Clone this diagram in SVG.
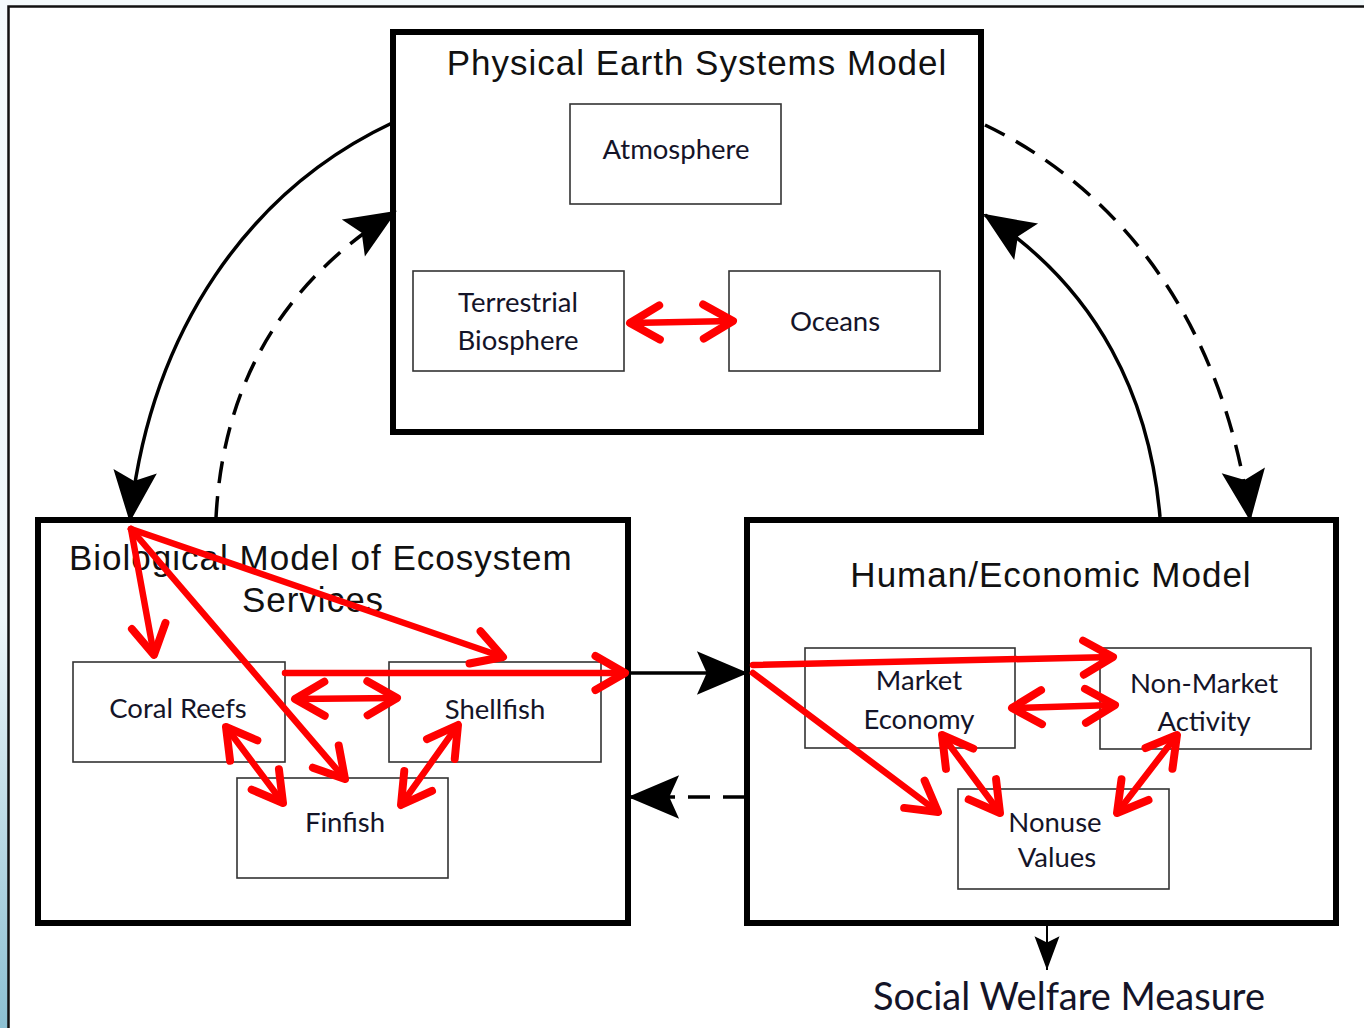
<svg xmlns="http://www.w3.org/2000/svg" width="1364" height="1028" viewBox="0 0 1364 1028">
  <defs>
    <linearGradient id="edge" x1="0" y1="0" x2="0" y2="1">
      <stop offset="0" stop-color="#f4fafc"/>
      <stop offset="0.6" stop-color="#eef6f9"/>
      <stop offset="1" stop-color="#8cc0d2"/>
    </linearGradient>
    <marker id="blk" markerUnits="userSpaceOnUse" markerWidth="60" markerHeight="60" viewBox="-50 -25 55 50" refX="0" refY="0" orient="auto">
      <path d="M2,0 L-45,-20 L-36,0 L-45,20 Z" fill="#000"/>
    </marker>
    <marker id="small" markerUnits="userSpaceOnUse" markerWidth="40" markerHeight="40" viewBox="-30 -12 32 24" refX="0" refY="0" orient="auto">
      <path d="M0,0 L-27,-10 L-22,0 L-27,10 Z" fill="#000"/>
    </marker>
    <marker id="red" markerUnits="userSpaceOnUse" markerWidth="50" markerHeight="50" viewBox="-32 -22 38 44" refX="0" refY="0" orient="auto-start-reverse">
      <path d="M-26,-15 L0,0 L-26,15" fill="none" stroke="#ff0000" stroke-width="7" stroke-linecap="round" stroke-linejoin="round"/>
    </marker>
  </defs>
  <style>
    .big { fill: none; stroke: #000; stroke-width: 6; }
    .sub { fill: #fff; stroke: #333; stroke-width: 1.6; }
    .title { font-family: "Liberation Sans", Arial, sans-serif; font-size: 35px; letter-spacing: 1px; fill: #111; }
    .lbl { font-family: Lato, "Open Sans", sans-serif; font-size: 27.5px; fill: #141428; text-anchor: middle; }
    .curve { fill: none; stroke: #000; stroke-width: 3.5; }
    .dash { stroke-dasharray: 22 13; }
    .r { fill: none; stroke: #ff0000; stroke-width: 6.5; stroke-linecap: round; }
  </style>

  <!-- page backdrop and frame -->
  <rect x="0" y="0" width="1364" height="1028" fill="#f4fafc"/>
  <rect x="0" y="0" width="9" height="1028" fill="url(#edge)"/>
  <rect x="9" y="7" width="1355" height="1021" fill="#fff"/>
  <path d="M8.5,1028 V6.5 H1364" fill="none" stroke="#111" stroke-width="2.5"/>

  <!-- Physical Earth Systems Model -->
  <g id="physical">
    <rect class="big" x="393" y="32" width="588" height="400"/>
    <text class="title" x="697" y="75" text-anchor="middle">Physical Earth Systems Model</text>
  </g>
  <g id="atmosphere">
    <rect class="sub" x="570" y="104" width="211" height="100"/>
    <text class="lbl" x="676" y="159">Atmosphere</text>
  </g>
  <g id="terrestrial">
    <rect class="sub" x="413" y="271" width="211" height="100"/>
    <text class="lbl" x="518" y="312">Terrestrial</text>
    <text class="lbl" x="518" y="350">Biosphere</text>
  </g>
  <g id="oceans">
    <rect class="sub" x="729" y="271" width="211" height="100"/>
    <text class="lbl" x="835" y="331">Oceans</text>
  </g>

  <!-- Biological Model of Ecosystem Services -->
  <g id="biological">
    <rect class="big" x="38" y="520" width="590" height="403"/>
    <text class="title" x="69" y="570">Biological Model of Ecosystem</text>
    <text class="title" x="313" y="612" text-anchor="middle">Services</text>
  </g>
  <g id="coral">
    <rect class="sub" x="73" y="662" width="212" height="100"/>
    <text class="lbl" x="178" y="718">Coral Reefs</text>
  </g>
  <g id="shellfish">
    <rect class="sub" x="389" y="662" width="212" height="100"/>
    <text class="lbl" x="495" y="719">Shellfish</text>
  </g>
  <g id="finfish">
    <rect class="sub" x="237" y="778" width="211" height="100"/>
    <text class="lbl" x="345" y="832">Finfish</text>
  </g>

  <!-- Human/Economic Model -->
  <g id="human">
    <rect class="big" x="747" y="520" width="589" height="403"/>
    <text class="title" x="1051" y="587" text-anchor="middle">Human/Economic Model</text>
  </g>
  <g id="market">
    <rect class="sub" x="805" y="648" width="210" height="100"/>
    <text class="lbl" x="919" y="690">Market</text>
    <text class="lbl" x="919" y="729">Economy</text>
  </g>
  <g id="nonmarket">
    <rect class="sub" x="1100" y="648" width="211" height="101"/>
    <text class="lbl" x="1204" y="693">Non-Market</text>
    <text class="lbl" x="1204" y="731">Activity</text>
  </g>
  <g id="nonuse">
    <rect class="sub" x="958" y="789" width="211" height="100"/>
    <text class="lbl" x="1055" y="832">Nonuse</text>
    <text class="lbl" x="1057" y="867">Values</text>
  </g>

  <g id="welfare">
    <text class="lbl" x="1069" y="1010" style="font-size:38px">Social Welfare Measure</text>
  </g>

  <!-- connectors -->
  <g id="connectors">
    <!-- model-to-model links -->
    <path class="curve" d="M392,123 C250,190 150,330 130,520" marker-end="url(#blk)"/>
    <path class="curve dash" d="M216,518 C222,400 270,290 395,212" marker-end="url(#blk)"/>
    <path class="curve" d="M1160,517 C1150,400 1100,290 985,215" marker-end="url(#blk)"/>
    <path class="curve dash" d="M985,125 C1100,180 1220,300 1250,519" marker-end="url(#blk)"/>
    <path class="curve" d="M628,673 H746" marker-end="url(#blk)"/>
    <path class="curve dash" d="M745,797 H630" marker-end="url(#blk)"/>
    <path d="M1047,925 V970" fill="none" stroke="#000" stroke-width="2" marker-end="url(#small)"/>

    <!-- red interaction arrows -->
    <path class="r" d="M630,323 L733,321" marker-start="url(#red)" marker-end="url(#red)"/>
    <path class="r" d="M131,529 L154,655" marker-end="url(#red)"/>
    <path class="r" d="M131,529 L503,657" marker-end="url(#red)"/>
    <path class="r" d="M131,529 L345,779" marker-end="url(#red)"/>
    <path class="r" d="M285,673 L625,673" marker-end="url(#red)"/>
    <path class="r" d="M295,699 L397,698" marker-start="url(#red)" marker-end="url(#red)"/>
    <path class="r" d="M226,727 L283,803" marker-start="url(#red)" marker-end="url(#red)"/>
    <path class="r" d="M458,725 L401,805" marker-start="url(#red)" marker-end="url(#red)"/>
    <path class="r" d="M753,665 L1113,657" marker-end="url(#red)"/>
    <path class="r" d="M753,673 L938,812" marker-end="url(#red)"/>
    <path class="r" d="M1012,708 L1115,705" marker-start="url(#red)" marker-end="url(#red)"/>
    <path class="r" d="M942,735 L1000,813" marker-start="url(#red)" marker-end="url(#red)"/>
    <path class="r" d="M1177,735 L1117,813" marker-start="url(#red)" marker-end="url(#red)"/>
  </g>
</svg>
